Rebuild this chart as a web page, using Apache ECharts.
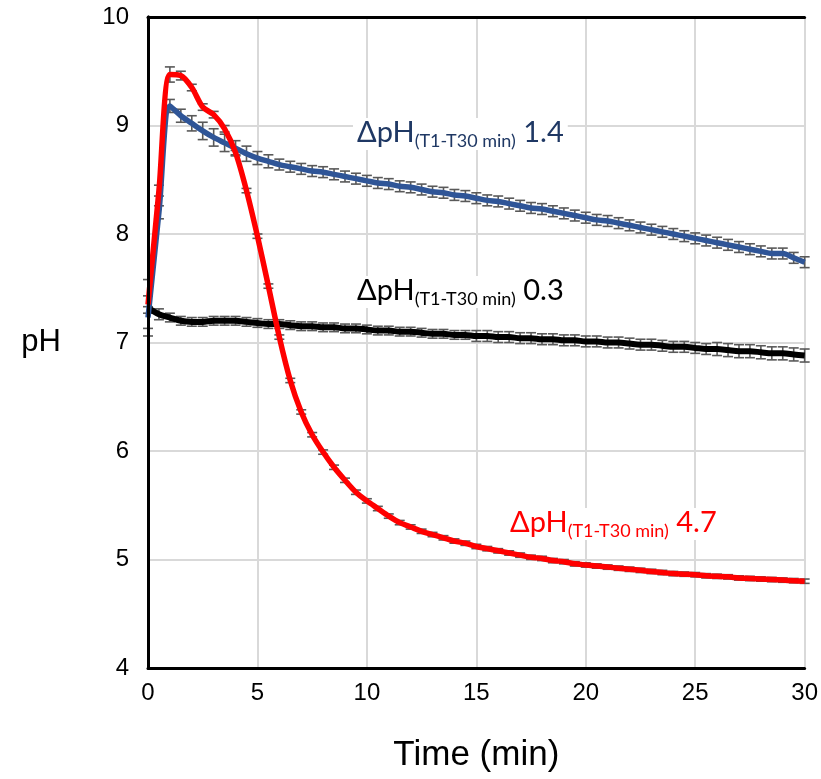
<!DOCTYPE html>
<html>
<head>
<meta charset="utf-8">
<script src="https://cdn.jsdelivr.net/npm/echarts@6/dist/echarts.min.js"></script>
<style>html,body{margin:0;padding:0;background:#fff}#c{width:821px;height:779px}</style>
</head>
<body>
<div id="c"></div>
<script>
// Time points (min)
const times = [0,0.5,1,1.5,2,2.5,3,3.5,4,4.5,5,5.5,6,6.5,7,7.5,8,8.5,9,9.5,10,10.5,11,11.5,12,12.5,13,13.5,14,14.5,15,15.5,16,16.5,17,17.5,18,18.5,19,19.5,20,20.5,21,21.5,22,22.5,23,23.5,24,24.5,25,25.5,26,26.5,27,27.5,28,28.5,29,29.5,30];

const redPH = [7.35,8.40,9.47,9.46,9.35,9.17,9.10,8.97,8.75,8.40,7.98,7.52,7.05,6.65,6.36,6.15,5.99,5.85,5.73,5.62,5.54,5.47,5.40,5.34,5.30,5.26,5.23,5.20,5.17,5.15,5.12,5.10,5.08,5.06,5.04,5.02,5.01,4.99,4.98,4.96,4.95,4.94,4.93,4.92,4.91,4.90,4.89,4.88,4.87,4.865,4.86,4.85,4.845,4.84,4.83,4.825,4.82,4.815,4.81,4.805,4.80];
const redErr = [0.08,0.05,0.07,0.04,0.03,0.03,0.03,0.03,0.02,0.02,0.02,0.02,0.02,0.02,0.02,0.02,0.02,0.02,0.02,0.02,0.02,0.02,0.02,0.02,0.02,0.02,0.02,0.02,0.02,0.02,0.02,0.02,0.02,0.02,0.02,0.02,0.02,0.02,0.02,0.02,0.02,0.02,0.02,0.02,0.02,0.02,0.02,0.02,0.02,0.02,0.02,0.02,0.02,0.02,0.02,0.02,0.02,0.02,0.02,0.02,0.02];

const bluePH = [7.23,8.20,9.18,9.09,9.02,8.95,8.89,8.84,8.79,8.74,8.70,8.67,8.64,8.62,8.60,8.58,8.57,8.55,8.53,8.51,8.49,8.47,8.46,8.44,8.43,8.41,8.39,8.38,8.36,8.35,8.33,8.31,8.30,8.28,8.26,8.24,8.23,8.21,8.19,8.17,8.15,8.13,8.12,8.10,8.08,8.06,8.04,8.02,8.00,7.98,7.96,7.94,7.92,7.90,7.88,7.86,7.84,7.82,7.82,7.78,7.74];
const blueErr = [0.10,0.06,0.06,0.06,0.07,0.08,0.08,0.08,0.07,0.07,0.06,0.06,0.05,0.05,0.05,0.05,0.05,0.05,0.05,0.05,0.05,0.05,0.05,0.05,0.05,0.05,0.05,0.05,0.05,0.05,0.05,0.05,0.05,0.05,0.05,0.05,0.05,0.05,0.05,0.05,0.05,0.05,0.05,0.05,0.05,0.05,0.05,0.05,0.05,0.05,0.05,0.05,0.05,0.05,0.05,0.05,0.05,0.05,0.05,0.05,0.05];

const blackPH = [7.32,7.26,7.23,7.20,7.19,7.19,7.20,7.20,7.20,7.19,7.18,7.17,7.17,7.16,7.15,7.15,7.14,7.14,7.13,7.13,7.12,7.11,7.11,7.10,7.10,7.09,7.08,7.08,7.07,7.07,7.06,7.06,7.05,7.05,7.04,7.04,7.03,7.03,7.02,7.02,7.01,7.01,7.00,7.00,6.99,6.98,6.98,6.97,6.96,6.96,6.95,6.94,6.94,6.93,6.92,6.92,6.91,6.90,6.90,6.89,6.88];
const blackErr = [0.26,0.05,0.04,0.04,0.04,0.04,0.04,0.04,0.04,0.04,0.04,0.04,0.04,0.04,0.04,0.04,0.04,0.04,0.04,0.04,0.04,0.04,0.04,0.04,0.04,0.04,0.04,0.04,0.04,0.04,0.05,0.05,0.05,0.05,0.05,0.05,0.05,0.05,0.05,0.05,0.05,0.05,0.05,0.05,0.05,0.05,0.05,0.05,0.05,0.05,0.05,0.05,0.06,0.06,0.06,0.06,0.06,0.06,0.06,0.06,0.06];

const xTicks = [0,5,10,15,20,25,30];
const yTicks = [4,5,6,7,8,9,10];

const labels = [
  {delta: '1.4', color: '#1f3864', x: 353, y: 116},
  {delta: '0.3', color: '#000000', x: 353, y: 274},
  {delta: '4.7', color: '#ff0000', x: 506, y: 506}
];

function pairs(v){ return times.map((t,i)=>[t, v[i]]); }
function errData(v,e){ return times.map((t,i)=>[t, v[i], e[i]]); }

function errRender(params, api){
  const x = api.value(0), y = api.value(1), e = api.value(2);
  const hi = api.coord([x, y + e]);
  const lo = api.coord([x, y - e]);
  const hw = 5;
  const st = {stroke: '#595959', lineWidth: 1.6};
  return {type: 'group', children: [
    {type: 'line', shape: {x1: hi[0], y1: hi[1], x2: lo[0], y2: lo[1]}, style: st},
    {type: 'line', shape: {x1: hi[0]-hw, y1: hi[1], x2: hi[0]+hw, y2: hi[1]}, style: st},
    {type: 'line', shape: {x1: lo[0]-hw, y1: lo[1], x2: lo[0]+hw, y2: lo[1]}, style: st}
  ]};
}

const tickFont = {fontFamily: 'Liberation Sans', fontSize: 24, color: '#000'};
const blackLine = {show: true, lineStyle: {color: '#000', width: 3}};

const chart = echarts.init(document.getElementById('c'), null, {renderer: 'canvas'});
const option = {
  animation: false,
  backgroundColor: '#fff',
  grid: {left: 148, right: 15, top: 17, bottom: 111, containLabel: false},
  xAxis: [{
    type: 'value', min: xTicks[0], max: xTicks[xTicks.length-1], interval: 5,
    name: 'Time (min)', nameLocation: 'middle', nameGap: 70,
    nameTextStyle: {fontFamily: 'Liberation Sans', fontSize: 35, color: '#000'},
    axisLine: blackLine,
    axisTick: {show: false},
    axisLabel: Object.assign({margin: 13}, tickFont),
    splitLine: {show: true, lineStyle: {color: '#d9d9d9', width: 2}},
    z: 1
  }, {
    type: 'value', position: 'top', min: xTicks[0], max: xTicks[xTicks.length-1], interval: 5,
    axisLine: blackLine, axisTick: {show: false}, axisLabel: {show: false}, splitLine: {show: false}, z: 8
  }],
  yAxis: [{
    type: 'value', min: yTicks[0], max: yTicks[yTicks.length-1], interval: 1,
    name: 'pH', nameLocation: 'middle', nameRotate: 0, nameGap: 87,
    nameTextStyle: {fontFamily: 'Liberation Sans', fontSize: 31, color: '#000'},
    axisLine: blackLine,
    axisTick: {show: false},
    axisLabel: Object.assign({margin: 19}, tickFont),
    splitLine: {show: true, lineStyle: {color: '#d9d9d9', width: 2}},
    z: 1
  }, {
    type: 'value', position: 'right', min: yTicks[0], max: yTicks[yTicks.length-1], interval: 1,
    axisLine: blackLine, axisTick: {show: false}, axisLabel: {show: false}, splitLine: {show: false}, z: 8
  }],
  series: [
    {type: 'custom', renderItem: errRender, data: errData(blackPH, blackErr), z: 2, silent: true},
    {type: 'custom', renderItem: errRender, data: errData(bluePH, blueErr), z: 2, silent: true},
    {type: 'custom', renderItem: errRender, data: errData(redPH, redErr), z: 2, silent: true},
    {type: 'line', data: pairs(blackPH), smooth: 0.3, showSymbol: false, lineStyle: {color: '#000', width: 6}, z: 3},
    {type: 'line', data: pairs(bluePH), smooth: 0.3, showSymbol: false, lineStyle: {color: '#2f5597', width: 5.5}, z: 4},
    {type: 'line', data: pairs(redPH), smooth: 0.3, showSymbol: false, lineStyle: {color: '#ff0000', width: 5.5}, z: 5}
  ],
  graphic: labels.map(l => ({
    type: 'text', left: l.x, top: l.y, z: 10,
    style: {
      text: '{a|ΔpH}{s|(T1-T30 min)}{a| ' + l.delta + '}',
      backgroundColor: '#fff',
      padding: [0, 4, 0, 4],
      rich: {
        a: {fontFamily: 'Lato', fontSize: 29, fill: l.color, lineHeight: 32, verticalAlign: 'top'},
        s: {fontFamily: 'Lato', fontSize: 18, fill: l.color, lineHeight: 22, verticalAlign: 'bottom', padding: [16, 0, 0, 0]}
      }
    }
  }))
};
chart.setOption(option);
</script>
</body>
</html>
